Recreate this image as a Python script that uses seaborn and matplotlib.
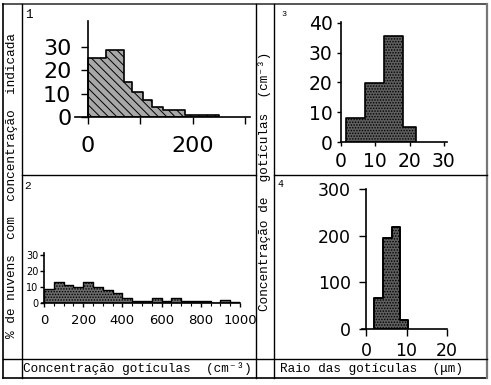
import numpy as np
import pandas as pd
import matplotlib
matplotlib.use("Agg")
import matplotlib.pyplot as plt
import seaborn as sns
from matplotlib.lines import Line2D

# ---------------- data ----------------
# Panel 1: % of clouds vs droplet concentration (cm^-3)
p1_edges = [0, 34, 68, 84, 106, 122, 144, 186, 250]
p1_pct = [25.4, 28.9, 15.0, 10.8, 7.3, 4.2, 3.1, 1.0]
p1_xticks = [0, 100, 200, 300]
p1_xticklabels = ["0", "", "200", ""]
p1_yticks = [0, 10, 20, 30]

# Panel 2: % of clouds vs droplet concentration (cm^-3)
p2_edges = [0, 50, 100, 150, 200, 250, 300, 350, 400, 450, 500,
            550, 600, 650, 700, 750, 800, 850, 900, 950, 1000]
p2_pct = [9, 13, 11, 10, 13, 10, 8, 6, 3, 1.5,
          1.5, 3, 1.5, 3, 1, 1, 1, 0, 2, 0.5]
p2_xticks = [0, 200, 400, 600, 800, 1000]
p2_yticks = [0, 10, 20, 30]

# Panel 3: droplet concentration (cm^-3) vs droplet radius (um)
p3_edges = [1.5, 7, 12.5, 18, 22]
p3_conc = [8.2, 19.9, 35.6, 5.1]
p3_xticks = [0, 10, 20, 30]
p3_yticks = [0, 10, 20, 30, 40]

# Panel 4: droplet concentration (cm^-3) vs droplet radius (um)
p4_edges = [2, 4.2, 6.4, 8.4, 10.3]
p4_conc = [67, 194, 218, 20]
p4_xticks = [0, 10, 20]
p4_yticks = [0, 100, 200, 300]

ylabel_left = "% de nuvens  com  concentração  indicada"
ylabel_right = "Concentração de  gotículas  (cm⁻³)"
xlabel_left = "Concentração gotículas  (cm⁻³)"
xlabel_right = "Raio das gotículas  (μm)"

# ---------------- figure ----------------
W, H = 491, 385
fig = plt.figure(figsize=(W / 100, H / 100), dpi=100)
fig.patch.set_facecolor("white")
plt.rcParams["hatch.linewidth"] = 0.7

MONO = ["Liberation Mono", "DejaVu Sans Mono"]
SANS = ["DejaVu Sans"]


def rect(l, r, t, b):
    return [l / W, 1 - b / H, (r - l) / W, (b - t) / H]


def hline(y, x0, x1, lw=1.0, color="black"):
    fig.add_artist(Line2D([x0 / W, x1 / W], [1 - y / H, 1 - y / H],
                          transform=fig.transFigure, lw=lw, color=color))


def vline(x, y0, y1, lw=1.0, color="black"):
    fig.add_artist(Line2D([x / W, x / W], [1 - y0 / H, 1 - y1 / H],
                          transform=fig.transFigure, lw=lw, color=color))


# frame / table grid
hline(4, 3, 487, lw=1.4, color="#555555")
hline(378, 3, 487, lw=1.2)
vline(3, 4, 378, lw=1.2)
vline(487, 4, 378, lw=1.6, color="#777777")
vline(22, 4, 378)
vline(256, 4, 378)
vline(274, 4, 378)
hline(175, 22, 256)
hline(175, 274, 487)
hline(359, 3, 487)


def centers(edges):
    return [(a + b) / 2 for a, b in zip(edges[:-1], edges[1:])]


def style_axes(ax, xlim, ylim, xticks, xticklabels, yticks, fs, tlen, pad_x, pad_y):
    ax.set_xlim(*xlim)
    ax.set_ylim(*ylim)
    ax.set_xlabel("")
    ax.set_ylabel("")
    ax.set_facecolor("none")
    for s in ["top", "right"]:
        ax.spines[s].set_visible(False)
    ax.spines["left"].set_position(("data", 0))
    for s in ["left", "bottom"]:
        ax.spines[s].set_linewidth(1.2)
    ax.set_xticks(xticks)
    ax.set_xticklabels(xticklabels)
    ax.set_yticks(yticks)
    ax.set_yticklabels([str(v) for v in yticks])
    ax.tick_params(axis="x", direction="out", length=tlen, width=1.0, pad=pad_x,
                   labelsize=fs)
    ax.tick_params(axis="y", direction="out", length=tlen, width=1.0, pad=pad_y,
                   labelsize=fs)
    for lab in ax.get_xticklabels() + ax.get_yticklabels():
        lab.set_family(SANS)


# ---- Panel 1 ----
ax1 = fig.add_axes(rect(75, 250, 21.3, 117))
sns.histplot(x=centers(p1_edges), weights=p1_pct, bins=p1_edges, element="step",
             fill=True, ax=ax1, facecolor="#a8a8a8", edgecolor="black",
             linewidth=1.2, hatch="\\\\\\\\", alpha=1)
style_axes(ax1, (-25, 310), (0, 41), p1_xticks, p1_xticklabels, p1_yticks,
           16, 5, 9, 7)

# ---- Panel 2 ----
ax2 = fig.add_axes(rect(42, 240, 253.4, 303))
sns.histplot(x=centers(p2_edges), weights=p2_pct, bins=p2_edges, element="step",
             fill=True, ax=ax2, facecolor="#6a6a6a", edgecolor="black",
             linewidth=1.0, hatch="......", alpha=1)
style_axes(ax2, (-10, 1000), (0, 31), p2_xticks,
           [str(v) for v in p2_xticks], p2_yticks, 9.5, 3, 5, 1)
ax2.set_xticks(p2_edges, minor=True)
ax2.tick_params(axis="x", which="minor", direction="out", length=2, width=0.8)
for lab in ax2.get_yticklabels():
    lab.set_fontsize(7)

# ---- Panel 3 ----
ax3 = fig.add_axes(rect(341, 447.3, 21.5, 142))
sns.histplot(x=centers(p3_edges), weights=p3_conc, bins=p3_edges, element="step",
             fill=True, ax=ax3, facecolor="#5e5e5e", edgecolor="black",
             linewidth=1.2, hatch="......", alpha=1)
style_axes(ax3, (0, 31), (0, 40.5), p3_xticks,
           [str(v) for v in p3_xticks], p3_yticks, 13.5, 3, 4, 3)

# ---- Panel 4 ----
ax4 = fig.add_axes(rect(362, 447, 189, 329))
sns.histplot(x=centers(p4_edges), weights=p4_conc, bins=p4_edges, element="step",
             fill=True, ax=ax4, facecolor="#5e5e5e", edgecolor="black",
             linewidth=1.4, hatch="......", alpha=1)
style_axes(ax4, (-1, 20), (0, 300), p4_xticks,
           [str(v) for v in p4_xticks], p4_yticks, 12.5, 5, 4, 6)

# ---- panel numbers ----
def ftext(x, y, s, **kw):
    fig.text(x / W, 1 - y / H, s, **kw)

ftext(29, 15, "1", fontsize=9, family=MONO, ha="center", va="center")
ftext(28, 186, "2", fontsize=8, family=MONO, ha="center", va="center")
ftext(284, 14, "3", fontsize=6, family=MONO, ha="center", va="center")
ftext(280, 184, "4", fontsize=7, family=MONO, ha="center", va="center")

# ---- axis titles (table cells) ----
ftext(12.5, 186, ylabel_left, fontsize=9.2, family=MONO, rotation=90,
      ha="center", va="center")
ftext(265, 181, ylabel_right, fontsize=9.2, family=MONO, rotation=90,
      ha="center", va="center")
ftext(137, 369, xlabel_left, fontsize=9.2, family=MONO, ha="center", va="center")
ftext(371, 369, xlabel_right, fontsize=9.2, family=MONO, ha="center", va="center")

fig.savefig("out.png", dpi=100, facecolor="white")
